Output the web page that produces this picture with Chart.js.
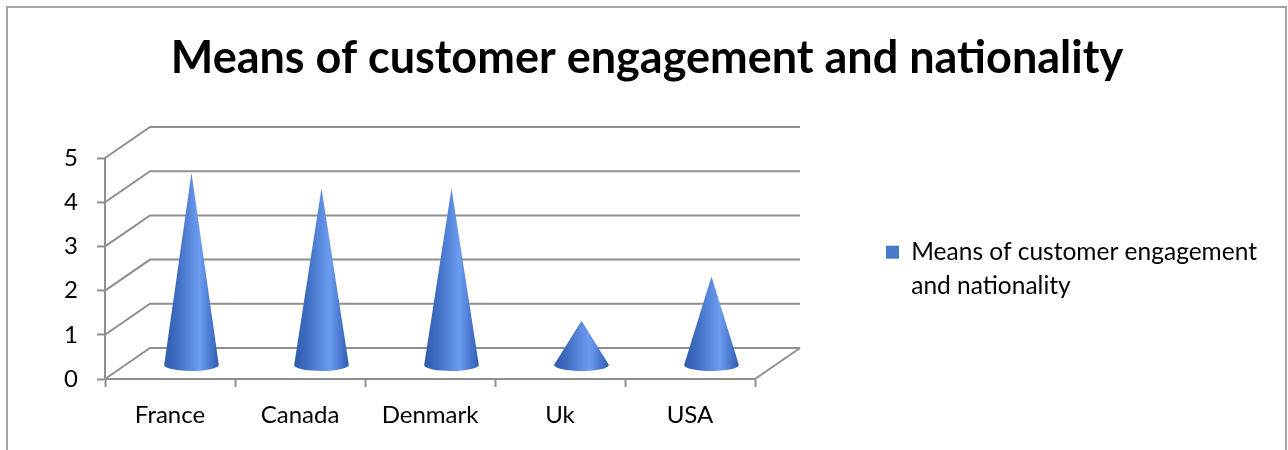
<!DOCTYPE html>
<html>
<head>
<meta charset="utf-8">
<title>Means of customer engagement and nationality</title>
<script src="https://cdn.jsdelivr.net/npm/chart.js@4"></script>
<style>
  html, body { margin: 0; padding: 0; background: #fff; }
  canvas { display: block; }
</style>
</head>
<body>
<canvas id="grafico" width="1288" height="450"></canvas>
<script>
//Datos
const paises = ['France', 'Canada', 'Denmark', 'Uk', 'USA']
const medias = [4.35, 4.0, 4.0, 1.0, 2.0]
const titulo = 'Means of customer engagement and nationality'
const serie = ['Means of customer engagement', 'and nationality']

const gris = '#8f8f8f'
const fuente = 'Lato'
const letraEjes = 24
const letraLeyenda = 24.5

//Profundidad del efecto 3D (pared del fondo y posicion de los conos)
const fondoX = 45, fondoY = -31
const conoX = 21.5, conoY = -14

//Margenes para que el area frontal quede entre x=105 y x=755
let medir = document.createElement('canvas').getContext('2d')
medir.font = letraLeyenda + 'px ' + fuente
let textoLeyenda = Math.max(...serie.map(t => medir.measureText(t).width))
let sepLeyenda = 131
let cuadro = 13
let anchoLeyenda = sepLeyenda + cuadro + letraLeyenda / 2 + textoLeyenda + 10
let margenDer = 1288 - 755 - anchoLeyenda
let margenIzq = margenDer + 6

//Marco, paredes y conos
const efecto3D = {
  id: 'efecto3D',
  beforeDraw(chart) {
    let ctx = chart.ctx
    ctx.save()
    ctx.strokeStyle = '#a3a3a3'
    ctx.lineWidth = 2
    ctx.strokeRect(7, 7, 1279, 460)
    ctx.restore()
  },
  beforeDatasetsDraw(chart) {
    const { ctx, chartArea: area, scales: { x, y } } = chart
    ctx.save()
    ctx.strokeStyle = gris
    ctx.lineWidth = 2

    // lineas de la pared lateral y del fondo
    y.ticks.forEach(t => {
      let py = y.getPixelForValue(t.value)
      ctx.beginPath()
      ctx.moveTo(area.left, py)
      ctx.lineTo(area.left + fondoX, py + fondoY)
      ctx.lineTo(area.right + fondoX, py + fondoY)
      ctx.stroke()
    })
    // borde derecho del piso
    ctx.beginPath()
    ctx.moveTo(area.right, area.bottom)
    ctx.lineTo(area.right + fondoX, area.bottom + fondoY)
    ctx.stroke()

    // conos
    let ancho = x.width / paises.length
    let rx = ancho * 0.21, ry = 6
    medias.forEach((v, i) => {
      let cx = x.getPixelForValue(i) + conoX
      let base = y.getPixelForValue(0) + conoY
      let punta = y.getPixelForValue(v) + conoY
      let a = Math.asin(Math.min(ry / (base - punta), 1))

      let grad = ctx.createLinearGradient(cx - rx, 0, cx + rx, 0)
      grad.addColorStop(0, '#2f5bab')
      grad.addColorStop(0.25, '#406ec3')
      grad.addColorStop(0.55, '#6292e6')
      grad.addColorStop(0.65, '#6c9cf0')
      grad.addColorStop(0.85, '#4978ce')
      grad.addColorStop(1, '#315eaf')

      ctx.fillStyle = grad
      ctx.beginPath()
      ctx.moveTo(cx, punta)
      ctx.ellipse(cx, base, rx, ry, 0, -a, Math.PI + a)
      ctx.closePath()
      ctx.fill()
    })
    ctx.restore()
    return false
  }
}

const ctxGrafico = document.getElementById('grafico').getContext('2d')
const grafico = new Chart(ctxGrafico, {
  type: 'bar',
  data: {
    labels: paises,
    datasets: [{
      label: serie,
      data: medias,
      backgroundColor: '#4a78c8',
      borderWidth: 0
    }]
  },
  options: {
    responsive: false,
    animation: false,
    events: [],
    layout: { padding: { top: 0, bottom: 0, left: margenIzq, right: margenDer } },
    scales: {
      x: {
        grid: { drawOnChartArea: false, tickLength: 8, tickColor: gris, tickWidth: 2 },
        border: { color: gris, width: 2 },
        ticks: { color: '#000', padding: 13.6, font: { family: fuente, size: letraEjes } },
        afterFit: s => { s.height = 71 }
      },
      y: {
        min: 0,
        max: 5,
        grid: { drawOnChartArea: false, tickLength: 8, tickColor: gris, tickWidth: 2 },
        border: { color: gris, width: 2 },
        ticks: { stepSize: 1, color: '#000', padding: 19, font: { family: fuente, size: letraEjes } },
        afterFit: s => { s.width = 105 - margenIzq }
      }
    },
    plugins: {
      tooltip: { enabled: false },
      title: {
        display: true,
        text: titulo,
        color: '#000',
        padding: { top: 31, bottom: 73 },
        font: { family: fuente, size: 45, weight: 'bold' }
      },
      legend: {
        position: 'right',
        fullSize: false,
        maxWidth: 1288,
        title: { display: true, text: '', padding: 0, font: { size: 11, lineHeight: 1 } },
        labels: {
          boxWidth: cuadro,
          boxHeight: 13,
          padding: sepLeyenda,
          color: '#000',
          font: { family: fuente, size: letraLeyenda, lineHeight: 1.39 }
        }
      }
    }
  },
  plugins: [efecto3D]
})
</script>
</body>
</html>
